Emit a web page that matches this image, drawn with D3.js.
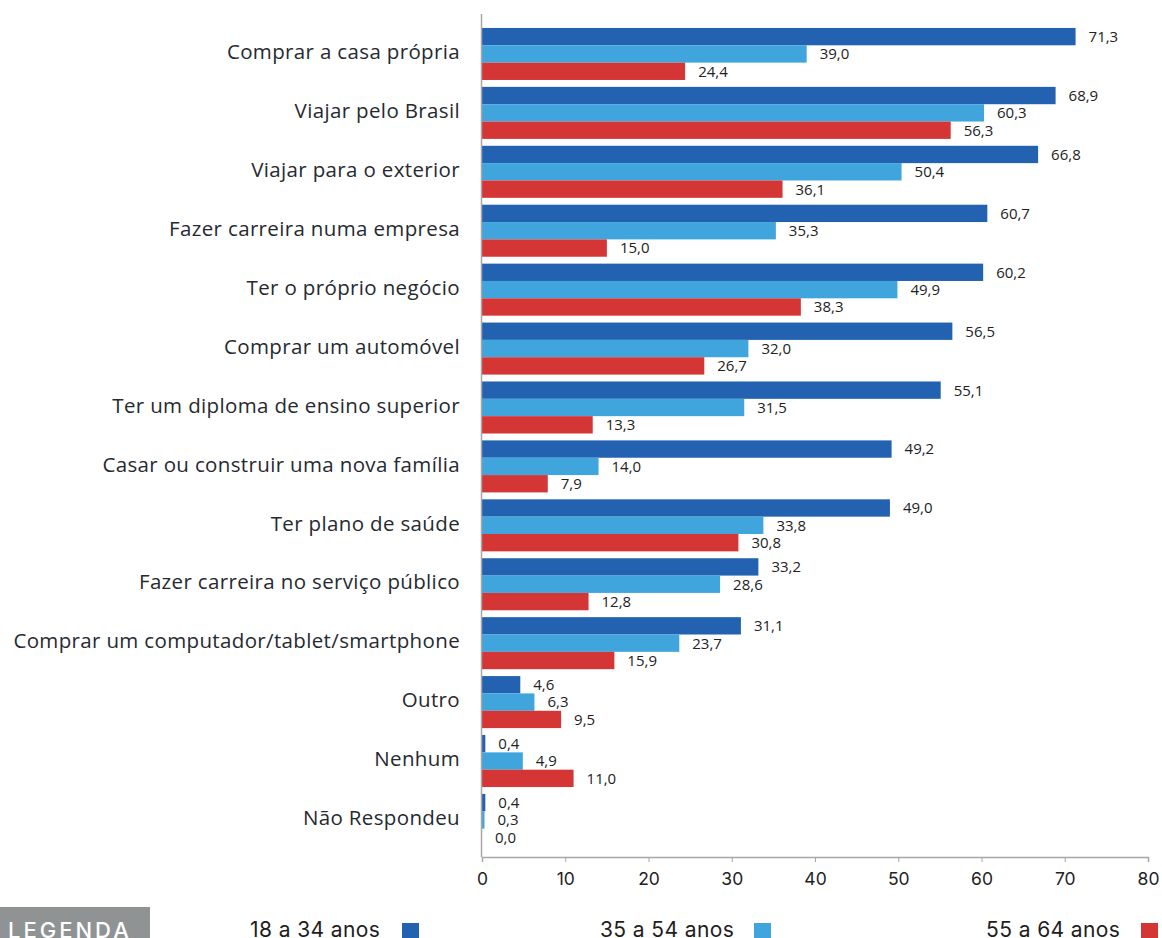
<!DOCTYPE html>
<html>
<head>
<meta charset="utf-8">
<script src="https://cdn.jsdelivr.net/npm/d3@7"></script>
<style>
  html, body { margin: 0; padding: 0; background: #fff; }
  svg { display: block; }
</style>
</head>
<body>
<svg id="chart" width="1162" height="938"></svg>
<script>
// Objetivos por faixa etária (%)
const categories = [
  "Comprar a casa própria",
  "Viajar pelo Brasil",
  "Viajar para o exterior",
  "Fazer carreira numa empresa",
  "Ter o próprio negócio",
  "Comprar um automóvel",
  "Ter um diploma de ensino superior",
  "Casar ou construir uma nova família",
  "Ter plano de saúde",
  "Fazer carreira no serviço público",
  "Comprar um computador/tablet/smartphone",
  "Outro",
  "Nenhum",
  "Não Respondeu"
];
const seriesNames = ["18 a 34 anos", "35 a 54 anos", "55 a 64 anos"];
const age18to34 = [71.3, 68.9, 66.8, 60.7, 60.2, 56.5, 55.1, 49.2, 49.0, 33.2, 31.1, 4.6, 0.4, 0.4];
const age35to54 = [39.0, 60.3, 50.4, 35.3, 49.9, 32.0, 31.5, 14.0, 33.8, 28.6, 23.7, 6.3, 4.9, 0.3];
const age55to64 = [24.4, 56.3, 36.1, 15.0, 38.3, 26.7, 13.3, 7.9, 30.8, 12.8, 15.9, 9.5, 11.0, 0.0];
const xTicks = [0, 10, 20, 30, 40, 50, 60, 70, 80];

const colors = ["#2262b0", "#41a5dd", "#d43535"];
const seriesValues = [age18to34, age35to54, age55to64];

const svg = d3.select("#chart");

const x = d3.scaleLinear().domain([0, 80]).range([482, 1148]);
const y = d3.scaleBand().domain(categories)
  .range([24.5, 849.4]).paddingInner(0.117).paddingOuter(0.0585);
const ySub = d3.scaleBand().domain(d3.range(seriesNames.length))
  .range([0, y.bandwidth()]);

const rows = categories.map((c, i) => ({
  cat: c,
  vals: seriesValues.map((s, k) => ({ k, v: s[i] }))
}));

// Bars
const groups = svg.append("g").selectAll("g.group")
  .data(rows).join("g")
  .attr("class", "group")
  .attr("transform", d => `translate(0,${y(d.cat)})`);

groups.selectAll("rect")
  .data(d => d.vals).join("rect")
  .attr("x", x(0))
  .attr("y", d => ySub(d.k))
  .attr("width", d => x(d.v) - x(0))
  .attr("height", ySub.bandwidth())
  .attr("fill", d => colors[d.k]);

// Value labels
const fmt = v => d3.format(".1f")(v).replace(".", ",");
groups.selectAll("text.val")
  .data(d => d.vals).join("text")
  .attr("class", "val")
  .attr("x", d => x(d.v) + 13)
  .attr("y", d => ySub(d.k) + ySub.bandwidth() / 2)
  .attr("dy", "0.36em")
  .attr("font-family", "'Open Sans', sans-serif")
  .attr("font-size", 15)
  .attr("fill", "#222")
  .text(d => fmt(d.v));

// Category labels
svg.append("g").selectAll("text.cat")
  .data(categories).join("text")
  .attr("class", "cat")
  .attr("x", 460)
  .attr("y", d => y(d) + y.bandwidth() / 2 - 2)
  .attr("dy", "0.35em")
  .attr("text-anchor", "end")
  .attr("font-family", "'Open Sans', sans-serif")
  .attr("font-size", 20.5)
  .attr("letter-spacing", 0.35)
  .attr("fill", "#262a30")
  .text(d => d);

// Vertical axis line
svg.append("line")
  .attr("x1", 481.5).attr("x2", 481.5)
  .attr("y1", 14).attr("y2", 857)
  .attr("stroke", "#a6a6a6").attr("stroke-width", 1.5);

// Bottom axis
const xAxis = d3.axisBottom(x).tickValues(xTicks).tickSize(5).tickPadding(11)
  .tickFormat(d3.format("d"));
const gx = svg.append("g")
  .attr("transform", "translate(0,857)")
  .call(xAxis);
gx.select(".domain").attr("stroke", "#a6a6a6").attr("stroke-width", 1.5);
gx.selectAll(".tick line").attr("stroke", "#a6a6a6");
gx.selectAll(".tick text")
  .attr("font-family", "Inter, sans-serif")
  .attr("font-size", 17.5)
  .attr("fill", "#222");

// Legend
const legend = svg.append("g");
legend.append("rect")
  .attr("x", 0).attr("y", 907).attr("width", 150).attr("height", 40)
  .attr("fill", "#8f9394");
legend.append("text")
  .attr("x", 8).attr("y", 937.5)
  .attr("font-family", "Inter, sans-serif")
  .attr("font-size", 22)
  .attr("font-weight", 500)
  .attr("letter-spacing", 3)
  .attr("fill", "#fff")
  .text("LEGENDA");

const legendX = [250, 600, 986];
const swatchX = [402, 754, 1141];
seriesNames.forEach((name, k) => {
  legend.append("text")
    .attr("x", legendX[k]).attr("y", 937)
    .attr("font-family", "Inter, sans-serif")
    .attr("font-size", 21)
    .attr("letter-spacing", 0.4)
    .attr("fill", "#1e1e1e")
    .text(name);
  legend.append("rect")
    .attr("x", swatchX[k]).attr("y", 923)
    .attr("width", 17).attr("height", 16)
    .attr("fill", colors[k]);
});
</script>
</body>
</html>
